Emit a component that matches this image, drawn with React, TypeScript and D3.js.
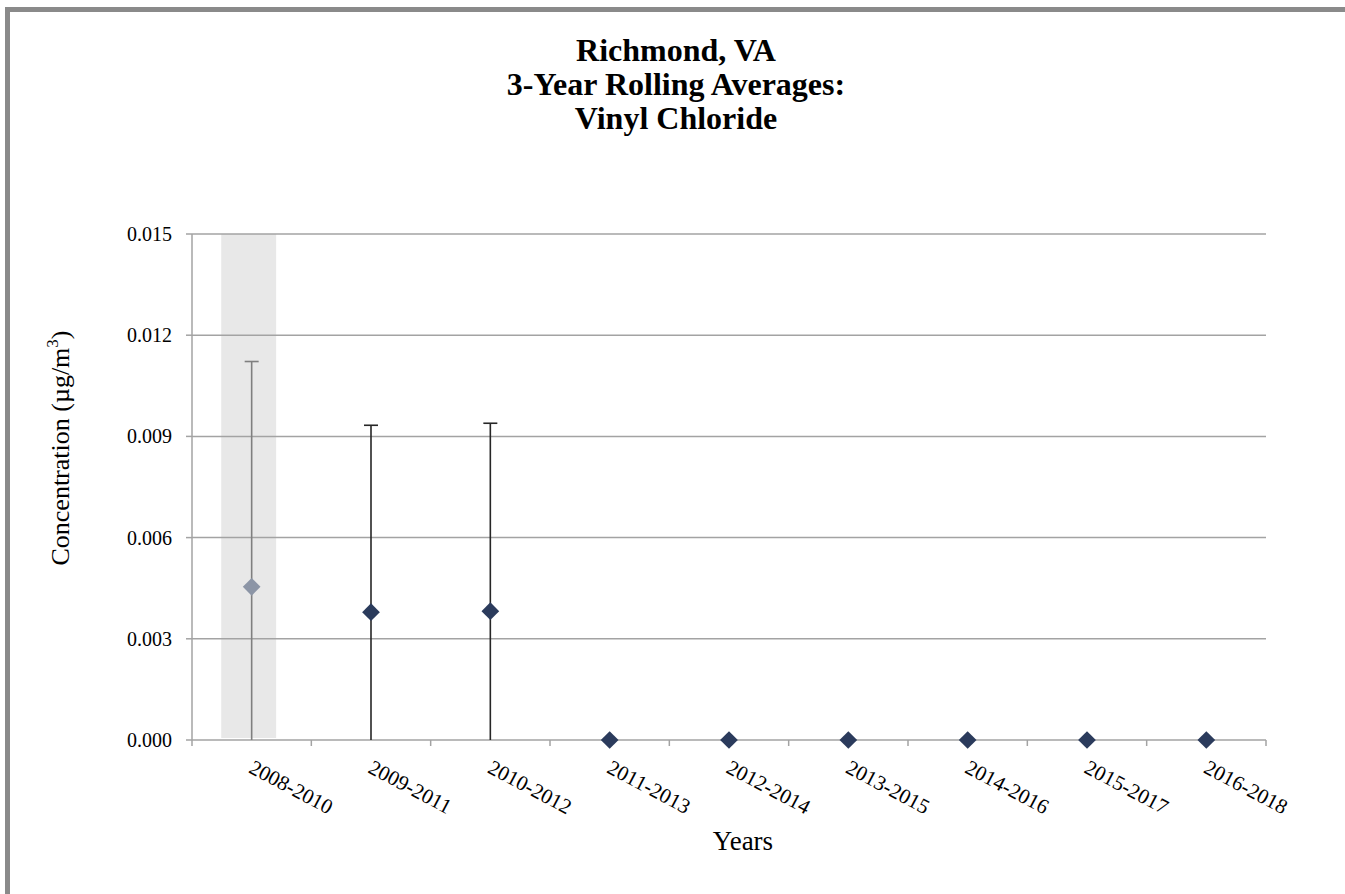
import React from 'react';
import * as d3 from 'd3';

const categories = ['2008-2010', '2009-2011', '2010-2012', '2011-2013', '2012-2014', '2013-2015', '2014-2016', '2015-2017', '2016-2018'];
const means = [0.00454, 0.00379, 0.00382, 0, 0, 0, 0, 0, 0];
const upper = [0.01122, 0.00933, 0.00939, 0, 0, 0, 0, 0, 0];
const lower = [0, 0, 0, 0, 0, 0, 0, 0, 0];
const incomplete = [true, false, false, false, false, false, false, false, false];
const yTicks = [0, 0.003, 0.006, 0.009, 0.012, 0.015];
const titleLines = ['Richmond, VA', '3-Year Rolling Averages:', 'Vinyl Chloride'];

const W = 1345;
const H = 894;
const left = 192;
const right = 1266;
const top = 234;
const bottom = 740;
const FF = '"Liberation Serif", "Times New Roman", serif';

export default function App() {
  const x = d3.scaleBand<string>().domain(categories).range([left, right]).padding(0);
  const y = d3.scaleLinear().domain([0, 0.015]).range([bottom, top]);
  const bw = x.bandwidth();
  const cx = (c: string) => (x(c) as number) + bw / 2;
  const fmt = d3.format('.3f');
  const diamond = d3.symbol().type(d3.symbolDiamond2).size(200)();
  const gridColor = '#a3a3a3';
  const ts = { fontFamily: FF };

  return (
    <svg width={W} height={H} style={{ position: 'absolute', left: 0, top: 0, background: '#fff' }}>
      <rect x={0} y={0} width={W} height={H} fill="#fff" />
      <rect x={7.5} y={9.5} width={W + 20} height={H + 20} fill="none" stroke="#8a8a8a" strokeWidth={5} />
      {titleLines.map((t, i) => (
        <text key={t} x={676} y={61 + i * 34.2} textAnchor="middle" fontSize={32} fontWeight="bold" fill="#000" style={ts}>
          {t}
        </text>
      ))}
      {categories.map((c, i) =>
        incomplete[i] ? (
          <rect key={'band' + c} x={(x(c) as number) + bw * 0.245} y={top} width={bw * 0.46} height={bottom - top - 2} fill="#e8e8e8" />
        ) : null
      )}
      {yTicks.map((t) => (
        <g key={t}>
          {t > 0 && <line x1={left} x2={right} y1={y(t)} y2={y(t)} stroke={gridColor} strokeWidth={1.5} />}
          <line x1={left - 6} x2={left} y1={y(t)} y2={y(t)} stroke={gridColor} strokeWidth={1.5} />
          <text x={172} y={y(t)} dy="0.35em" textAnchor="end" fontSize={20} fill="#000" style={ts}>
            {fmt(t)}
          </text>
        </g>
      ))}
      <line x1={left} x2={left} y1={top} y2={bottom} stroke={gridColor} strokeWidth={1.5} />
      <line x1={left} x2={right} y1={bottom} y2={bottom} stroke={gridColor} strokeWidth={1.5} />
      {categories.map((c) => (
        <line key={'xt' + c} x1={x(c) as number} x2={x(c) as number} y1={bottom} y2={bottom + 6} stroke={gridColor} strokeWidth={1.5} />
      ))}
      <line x1={right} x2={right} y1={bottom} y2={bottom + 6} stroke={gridColor} strokeWidth={1.5} />
      {categories.map((c, i) => {
        const col = incomplete[i] ? '#7f7f7f' : '#262626';
        if (upper[i] === lower[i]) return null;
        return (
          <g key={'err' + c}>
            <line x1={cx(c)} x2={cx(c)} y1={y(upper[i])} y2={y(lower[i])} stroke={col} strokeWidth={1.6} />
            <line x1={cx(c) - 7} x2={cx(c) + 7} y1={y(upper[i])} y2={y(upper[i])} stroke={col} strokeWidth={1.6} />
          </g>
        );
      })}
      {categories.map((c, i) => (
        <path key={'pt' + c} d={diamond as string} transform={`translate(${cx(c)},${y(means[i])})`} fill={incomplete[i] ? '#8c95a6' : '#2b3b5c'} />
      ))}
      {categories.map((c) => (
        <text key={'xl' + c} transform={`translate(${cx(c) + 3},${759}) rotate(28)`} dy="0.7em" fontSize={21} fill="#000" style={ts}>
          {c}
        </text>
      ))}
      <text x={743} y={850} textAnchor="middle" fontSize={27} fill="#000" style={ts}>
        Years
      </text>
      <text transform={`translate(69,448) rotate(-90)`} textAnchor="middle" fontSize={26} fill="#000" style={ts}>
        Concentration (µg/m<tspan fontSize={17} dy={-11}>3</tspan>
        <tspan dy={11}>)</tspan>
      </text>
    </svg>
  );
}
